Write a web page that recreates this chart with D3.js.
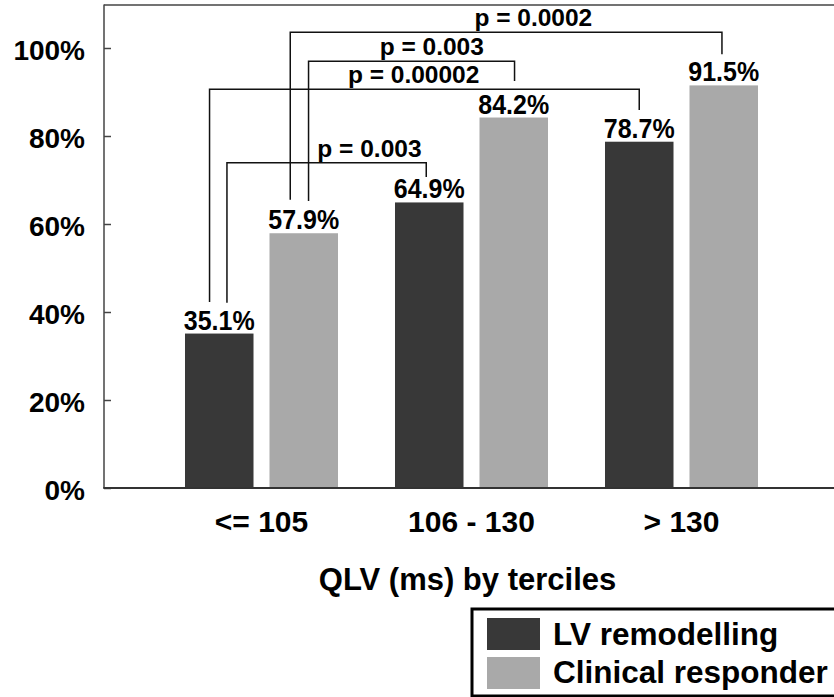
<!DOCTYPE html>
<html>
<head>
<meta charset="utf-8">
<script src="https://cdn.jsdelivr.net/npm/d3@7"></script>
<style>
  html, body { margin: 0; padding: 0; background: #fff; }
  svg { display: block; }
  text { font-family: "Liberation Sans", Arial, Helvetica, sans-serif; font-weight: bold; fill: #000; }
</style>
</head>
<body>
<svg id="chart" width="834" height="697"></svg>
<script>
// ---------- data ----------
const categories = ["<= 105", "106 - 130", "> 130"];
const seriesNames = ["LV remodelling", "Clinical responder"];
const seriesColors = ["#383838", "#a9a9a9"];
const lvRemodelling = [35.1, 64.9, 78.7];
const clinicalResponder = [57.9, 84.2, 91.5];
const yTicks = [0, 20, 40, 60, 80, 100];
const xTitle = "QLV (ms) by terciles";

// significance brackets (values in % units)
const pLabels   = ["p = 0.003", "p = 0.00002", "p = 0.003", "p = 0.0002"];
const pFromCat  = [0, 0, 0, 0];
const pToCat    = [1, 2, 1, 2];
const pSeries   = [0, 0, 1, 1];
const pLevel    = [73.9, 90.6, 97.0, 103.6];
const pLegFrom  = [42.1, 42.3, 65.2, 65.5];
const pLegTo    = [70.7, 85.9, 92.5, 98.6];

// ---------- layout ----------
const svg = d3.select("#chart");
const plotLeft = 104, plotBottom = 488, plotTop = 4;

const y = d3.scaleLinear().domain([0, 110]).range([plotBottom, plotTop]);
const x0 = d3.scaleBand().domain(categories).range([156.5, 786.5])
  .paddingInner(0.2714).paddingOuter(0.1357);
const x1 = d3.scaleBand().domain(seriesNames).range([0, x0.bandwidth()])
  .paddingInner(0.1893).paddingOuter(0);

const seriesValues = [lvRemodelling, clinicalResponder];

// frame top
svg.append("line").attr("x1", plotLeft).attr("x2", 840).attr("y1", y(110) + 1).attr("y2", y(110) + 1)
  .attr("stroke", "#444").attr("stroke-width", 1.5);

// bars
const groups = svg.append("g").selectAll("g").data(categories).join("g")
  .attr("transform", d => `translate(${x0(d)},0)`);

groups.selectAll("rect")
  .data((c, i) => seriesNames.map((s, k) => ({ s, k, v: seriesValues[k][i] })))
  .join("rect")
  .attr("x", d => x1(d.s))
  .attr("width", x1.bandwidth())
  .attr("y", d => y(d.v))
  .attr("height", d => y(0) - y(d.v))
  .attr("fill", d => seriesColors[d.k]);

groups.selectAll("text.val")
  .data((c, i) => seriesNames.map((s, k) => ({ s, k, v: seriesValues[k][i] })))
  .join("text")
  .attr("class", "val")
  .attr("transform", d => `translate(${x1(d.s) + x1.bandwidth() / 2},${y(d.v) - 4}) scale(1,1.1)`)
  .attr("text-anchor", "middle")
  .style("font-size", "25px")
  .text(d => d.v.toFixed(1) + "%");

// y axis
const yAxis = d3.axisLeft(y).tickValues(yTicks).tickSizeInner(-7).tickSizeOuter(0)
  .tickPadding(19).tickFormat(d => d + "%");
const gy = svg.append("g").attr("transform", `translate(${plotLeft},0)`).call(yAxis);
gy.select(".domain").remove();
gy.selectAll(".tick line").attr("stroke", "#444").attr("stroke-width", 1.5);
gy.selectAll(".tick text")
  .attr("dy", "0.4em")
  .style("font-size", "28px")
  .style("font-family", "'Liberation Sans', Arial, sans-serif")
  .style("font-weight", "bold")
  .attr("fill", "#000");
svg.append("line").attr("x1", plotLeft).attr("x2", plotLeft)
  .attr("y1", y(110) + 0.5).attr("y2", plotBottom)
  .attr("stroke", "#444").attr("stroke-width", 1.5);

// x axis
const xAxis = d3.axisBottom(x0).tickSize(0).tickPadding(0);
const gx = svg.append("g").attr("transform", `translate(0,${plotBottom})`).call(xAxis);
gx.select(".domain").remove();
gx.selectAll(".tick text")
  .attr("y", 44).attr("dy", 0)
  .style("font-size", "30px")
  .style("font-family", "'Liberation Sans', Arial, sans-serif")
  .style("font-weight", "bold")
  .attr("fill", "#000");
svg.append("line").attr("x1", plotLeft - 0.75).attr("x2", 840)
  .attr("y1", plotBottom).attr("y2", plotBottom)
  .attr("stroke", "#333").attr("stroke-width", 2);

// x title
svg.append("text").attr("x", 467.5).attr("y", 590).attr("text-anchor", "middle")
  .style("font-size", "31px").text(xTitle);

// significance brackets
const legOffL = [7.7, -9.7, 4.8, -13.5];
const legOffR = [-3, 0, 0.8, -1.8];
const labelFrac = [0.715, 0.475, 0.598, 0.563];
const br = svg.append("g");
pLabels.forEach((lab, i) => {
  const s = seriesNames[pSeries[i]];
  const xa = x0(categories[pFromCat[i]]) + x1(s) + x1.bandwidth() / 2 + legOffL[i];
  const xb = x0(categories[pToCat[i]]) + x1(s) + x1.bandwidth() / 2 + legOffR[i];
  const yl = y(pLevel[i]);
  br.append("path")
    .attr("d", `M${xa},${y(pLegFrom[i])}V${yl}H${xb}V${y(pLegTo[i])}`)
    .attr("fill", "none").attr("stroke", "#111").attr("stroke-width", 1.5);
  br.append("text").attr("x", xa + (xb - xa) * labelFrac[i]).attr("y", yl - 6)
    .attr("text-anchor", "middle").style("font-size", "24.5px").text(lab);
});

// legend
const lg = svg.append("g");
lg.append("rect").attr("x", 472).attr("y", 609).attr("width", 400).attr("height", 87)
  .attr("fill", "#fff").attr("stroke", "#000").attr("stroke-width", 3);
seriesNames.forEach((s, k) => {
  lg.append("rect").attr("x", 487).attr("y", 618 + k * 39).attr("width", 53).attr("height", 32)
    .attr("fill", seriesColors[k]);
  lg.append("text").attr("x", 553).attr("y", 645 + k * 38).style("font-size", "31.5px").text(s);
});
</script>
</body>
</html>
